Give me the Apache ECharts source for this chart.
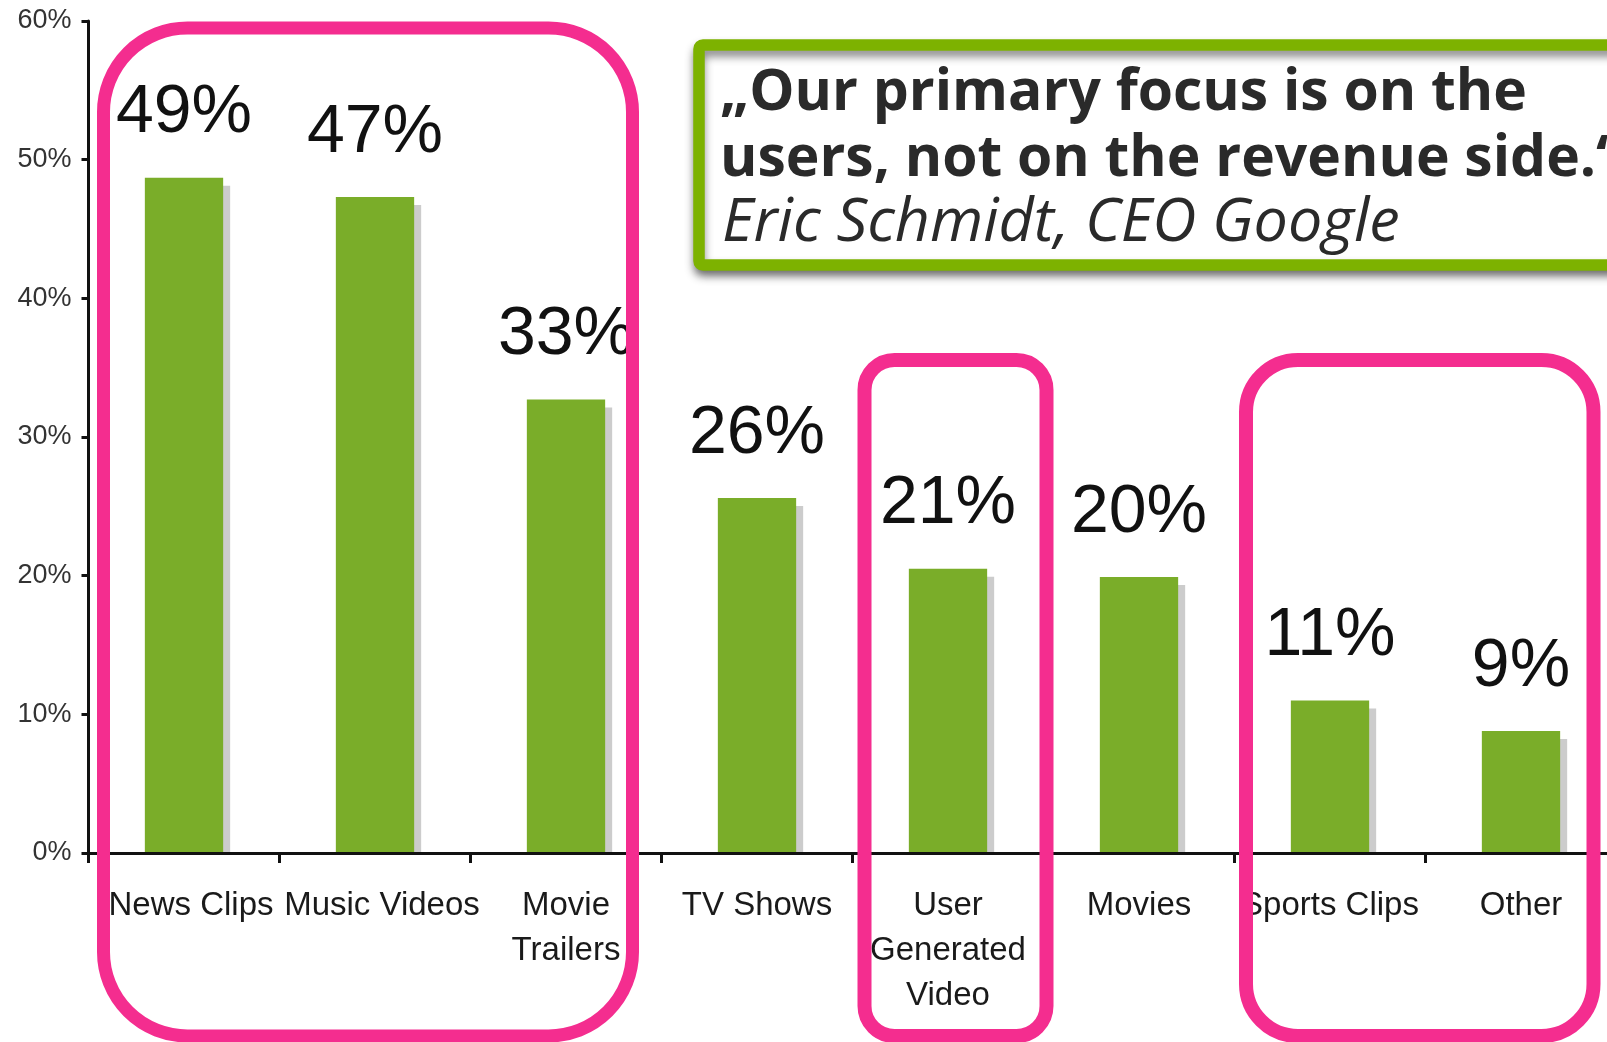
<!DOCTYPE html>
<html>
<head>
<meta charset="utf-8">
<title>Online video content</title>
<script src="https://cdn.jsdelivr.net/npm/echarts@6/dist/echarts.min.js"></script>
<style>
  html,
  body {
    margin: 0;
    padding: 0;
    background: #fff;
  }
  #main {
    width: 1607px;
    height: 1042px;
  }
</style>
</head>
<body>
<div id="main"></div>
<script>
// values
const categories = ["News Clips", "Music Videos", "Movie\nTrailers", "TV Shows", "User\nGenerated\nVideo", "Movies", "Sports Clips", "Other"];
const shares = [48.7, 47.3, 32.7, 25.6, 20.5, 19.9, 11.0, 8.8];
const shareLabels = ["49%", "47%", "33%", "26%", "21%", "20%", "11%", "9%"];
const quoteLines = ["\u201EOur primary focus is on the", "users, not on the revenue side.\u201C"];
const quoteAuthor = "Eric Schmidt, CEO Google";

const FONT = "'Liberation Sans', Arial, sans-serif";
const PINK = "#f42d8f";

let mychart = echarts.init(document.getElementById("main"));

// bar + grey drop shadow + big value label on top
function renderBar(params, api) {
  const idx = api.value(0);
  const top = api.coord([idx, api.value(1)]);
  const base = api.coord([idx, 0]);
  const w = api.size([1, 0])[0] * 0.41;
  const h = base[1] - top[1];
  return {
    type: "group",
    children: [
      {
        type: "rect",
        shape: { x: top[0] - w / 2 + 7, y: top[1] + 8, width: w, height: h - 8 },
        style: { fill: "#cccccc" },
      },
      {
        type: "rect",
        shape: { x: top[0] - w / 2, y: top[1], width: w, height: h },
        style: { fill: "#7aad29" },
      },
      {
        type: "text",
        x: top[0],
        y: top[1] - 64,
        style: {
          text: shareLabels[params.dataIndex],
          font: "68px " + FONT,
          fill: "#111",
          align: "center",
          verticalAlign: "middle",
        },
      },
    ],
  };
}

const option = {
  animation: false,
  backgroundColor: "#fff",
  grid: {
    left: 88.5,
    top: 21,
    width: 1528, // runs past the right edge like the original
    height: 832,
    containLabel: false,
    outerBoundsMode: "none",
  },
  xAxis: {
    type: "category",
    data: categories,
    z: 5,
    axisLine: { lineStyle: { color: "#111", width: 3 } },
    axisTick: { show: true, alignWithLabel: false, length: 10, lineStyle: { color: "#111", width: 3 } },
    axisLabel: {
      interval: 0,
      margin: 30,
      color: "#1a1a1a",
      fontFamily: FONT,
      fontSize: 33,
      lineHeight: 45,
      // the two crowded left labels sit a bit to the right in the original
      formatter: function (value, index) {
        return index < 2 ? "{shift|" + value + "}" : value;
      },
      rich: {
        shift: {
          padding: [0, 0, 0, 14],
          color: "#1a1a1a",
          fontFamily: FONT,
          fontSize: 33,
          lineHeight: 45,
        },
      },
    },
  },
  yAxis: {
    type: "value",
    min: 0,
    max: 60,
    interval: 10,
    z: 5,
    splitLine: { show: false },
    axisLine: { show: true, lineStyle: { color: "#111", width: 3 } },
    axisTick: { show: true, length: 7, lineStyle: { color: "#111", width: 3 } },
    axisLabel: {
      formatter: "{value}%",
      margin: 17,
      color: "#333",
      fontFamily: FONT,
      fontSize: 27,
    },
  },
  series: [
    {
      type: "custom",
      renderItem: renderBar,
      data: shares.map((v, i) => [i, v]),
      encode: { x: 0, y: 1 },
    },
  ],
  graphic: [
    // quote box
    {
      type: "rect",
      z: 50,
      shape: { x: 699, y: 45, width: 960, height: 220, r: 4 },
      style: {
        fill: "#fff",
        stroke: "#7db200",
        lineWidth: 11.5,
        shadowBlur: 8,
        shadowOffsetY: 6,
        shadowColor: "rgba(0,0,0,0.45)",
      },
    },
    {
      type: "text",
      z: 51,
      x: 720,
      y: 94,
      style: {
        text: quoteLines[0],
        font: "bold 57px 'Open Sans', sans-serif",
        fill: "#2a2a2a",
        verticalAlign: "middle",
      },
    },
    {
      type: "text",
      z: 51,
      x: 720,
      y: 160,
      style: {
        text: quoteLines[1],
        font: "bold 57px 'Open Sans', sans-serif",
        fill: "#2a2a2a",
        verticalAlign: "middle",
      },
    },
    {
      type: "text",
      z: 51,
      x: 722,
      y: 224,
      style: {
        text: quoteAuthor,
        font: "italic 61px 'Open Sans', sans-serif",
        fill: "#2a2a2a",
        verticalAlign: "middle",
      },
    },
    // pink highlight frames
    {
      type: "rect",
      z: 100,
      shape: { x: 103.5, y: 28, width: 529, height: 1008, r: 84 },
      style: { fill: "none", stroke: PINK, lineWidth: 13 },
    },
    {
      type: "rect",
      z: 100,
      shape: { x: 864.5, y: 360, width: 182, height: 676, r: 30 },
      style: { fill: "none", stroke: PINK, lineWidth: 14 },
    },
    {
      type: "rect",
      z: 100,
      shape: { x: 1246, y: 360, width: 347.5, height: 676, r: 52 },
      style: { fill: "none", stroke: PINK, lineWidth: 14 },
    },
  ],
};

mychart.setOption(option);
window.addEventListener("resize", function () {
  mychart.resize();
});
</script>
</body>
</html>
